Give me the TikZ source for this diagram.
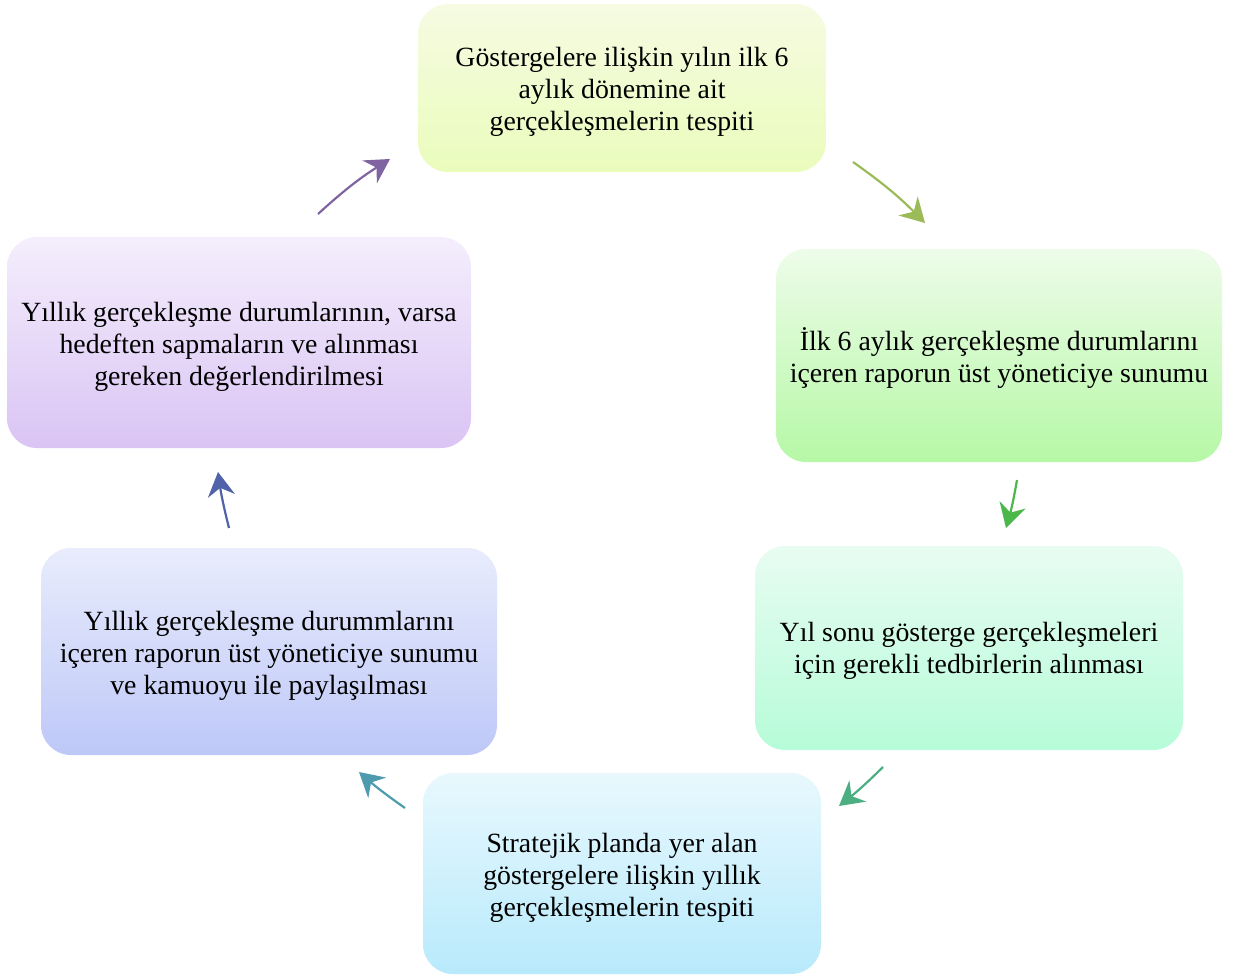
\documentclass[tikz,border=0pt]{standalone}
\usepackage{fontspec}
\setmainfont{Liberation Serif}
\usetikzlibrary{arrows.meta}
\begin{document}
\begin{tikzpicture}[x=1pt,y=-1pt,
 stepbox/.style={rounded corners=30pt, inner sep=0pt, draw=none},
 steptext/.style={align=center, font=\fontsize{27.8}{32}\selectfont, inner sep=0pt},
 conn/.style={line width=2.2pt, -{Stealth[length=24pt,width=27pt,inset=8pt]}, bend left=5}]
\useasboundingbox (0,0) rectangle (1234,977);
\definecolor{c1t}{HTML}{F6FBE2}\definecolor{c1b}{HTML}{EAFCBC}
\definecolor{c2t}{HTML}{EEFCEA}\definecolor{c2b}{HTML}{B6F8A6}
\definecolor{c3t}{HTML}{E8FCF2}\definecolor{c3b}{HTML}{B6FCD8}
\definecolor{c4t}{HTML}{E8F8FD}\definecolor{c4b}{HTML}{B8EAFC}
\definecolor{c5t}{HTML}{E8ECFC}\definecolor{c5b}{HTML}{BEC8F8}
\definecolor{c6t}{HTML}{F4EEFC}\definecolor{c6b}{HTML}{DAC4F4}
\definecolor{a1}{HTML}{8064A2}\definecolor{a2}{HTML}{9BBB59}
\definecolor{a3}{HTML}{4CB84C}\definecolor{a4}{HTML}{4CAF82}
\definecolor{a5}{HTML}{4E9BB0}\definecolor{a6}{HTML}{4F62AA}
\node[stepbox, top color=c1t, bottom color=c1b, minimum width=408pt, minimum height=168pt] (b1) at (622,88) {};
\node[stepbox, top color=c2t, bottom color=c2b, minimum width=446pt, minimum height=213pt] (b2) at (999,355.5) {};
\node[stepbox, top color=c3t, bottom color=c3b, minimum width=428pt, minimum height=204pt] (b3) at (969,648) {};
\node[stepbox, top color=c4t, bottom color=c4b, minimum width=398pt, minimum height=201pt] (b4) at (622,873.5) {};
\node[stepbox, top color=c5t, bottom color=c5b, minimum width=456pt, minimum height=207pt] (b5) at (269,651.5) {};
\node[stepbox, top color=c6t, bottom color=c6b, minimum width=464pt, minimum height=211pt] (b6) at (239,342.5) {};
\node[steptext] (t1) at ([yshift=-4pt]b1.center) {Göstergelere ilişkin yılın ilk 6\\aylık dönemine ait\\gerçekleşmelerin tespiti};
\node[steptext] (t2) at ([yshift=-3pt]b2.center) {İlk 6 aylık gerçekleşme durumlarını\\içeren raporun üst yöneticiye sunumu};
\node[steptext] (t3) at ([yshift=-3pt]b3.center) {Yıl sonu gösterge gerçekleşmeleri\\için gerekli tedbirlerin alınması};
\node[steptext] (t4) at ([yshift=-4pt]b4.center) {Stratejik planda yer alan\\göstergelere ilişkin yıllık\\gerçekleşmelerin tespiti};
\node[steptext] (t5) at ([yshift=-4pt]b5.center) {Yıllık gerçekleşme durummlarını\\içeren raporun üst yöneticiye sunumu\\ve kamuoyu ile paylaşılması};
\node[steptext] (t6) at ([yshift=-4pt]b6.center) {Yıllık gerçekleşme durumlarının, varsa\\hedeften sapmaların ve alınması\\gereken değerlendirilmesi};
\coordinate (s1) at (318,214); \coordinate (e1) at (390,159);
\coordinate (s2) at (853,162); \coordinate (e2) at (925,223);
\coordinate (s3) at (1017,480); \coordinate (e3) at (1006,528);
\coordinate (s4) at (883,767); \coordinate (e4) at (839,806);
\coordinate (s5) at (405,808); \coordinate (e5) at (359,772);
\coordinate (s6) at (229,528); \coordinate (e6) at (218,472);
\draw[conn, a1] (s1) to (e1);
\draw[conn, a2] (s2) to (e2);
\draw[conn, a3, bend left=3] (s3) to (e3);
\draw[conn, a4, bend left=3] (s4) to (e4);
\draw[conn, a5, bend left=3] (s5) to (e5);
\draw[conn, a6, bend left=3] (s6) to (e6);
\end{tikzpicture}
\end{document}
